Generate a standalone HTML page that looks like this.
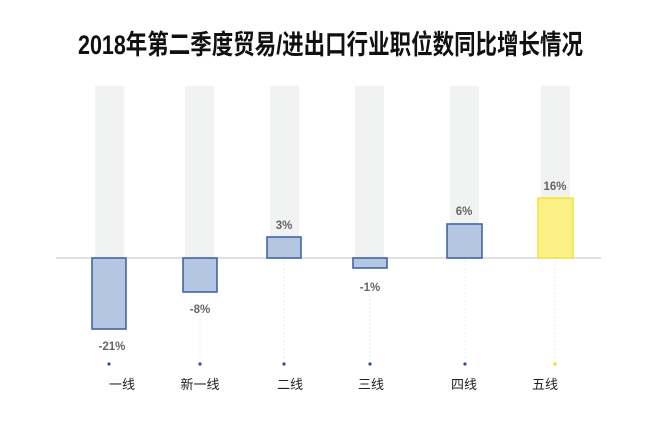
<!DOCTYPE html>
<html><head><meta charset="utf-8"><style>
html,body{margin:0;padding:0;background:#fff;}
svg{display:block;}
</style></head><body>
<svg width="650" height="427" viewBox="0 0 650 427" xmlns="http://www.w3.org/2000/svg">
<text x="78" y="54" textLength="505" lengthAdjust="spacingAndGlyphs" font-family="'Liberation Sans','Noto Sans CJK SC',sans-serif" font-weight="bold" font-size="27" fill="#111">2018年第二季度贸易/进出口行业职位数同比增长情况</text>
<g fill="#f1f2f2">
<rect x="95" y="86" width="29" height="172"/>
<rect x="185" y="86" width="29" height="172"/>
<rect x="270" y="86" width="29" height="172"/>
<rect x="355" y="86" width="29" height="172"/>
<rect x="450" y="86" width="29" height="172"/>
<rect x="541" y="86" width="29" height="172"/>
</g>
<line x1="56" y1="258" x2="601" y2="258" stroke="#cfcfcf" stroke-width="1.2"/>
<g stroke="#eeeef2" stroke-width="1" stroke-dasharray="2,2">
<line x1="200" y1="318" x2="200" y2="360"/>
<line x1="284" y1="260" x2="284" y2="360"/>
<line x1="370" y1="295" x2="370" y2="360"/>
<line x1="465" y1="260" x2="465" y2="360"/>
<line x1="555" y1="260" x2="555" y2="360"/>
</g>
<g fill="#b4c6e2" stroke="#4165a8" stroke-width="1.6">
<rect x="92" y="258" width="34" height="71"/>
<rect x="183" y="258" width="34" height="34"/>
<rect x="267" y="237" width="34" height="21"/>
<rect x="353" y="258" width="34" height="10"/>
<rect x="447" y="224" width="35" height="34"/>
</g>
<rect x="538" y="198" width="35" height="60" fill="#fbf083" stroke="#f2e13a" stroke-width="1.4"/>
<g font-family="'Liberation Sans',sans-serif" font-weight="bold" font-size="11.5" fill="#666" text-anchor="middle">
<text x="112" y="350">-21%</text>
<text x="200" y="313">-8%</text>
<text x="284" y="229">3%</text>
<text x="370" y="291">-1%</text>
<text x="464" y="215">6%</text>
<text x="555" y="190">16%</text>
</g>
<g fill="#2d4f8c">
<circle cx="109" cy="364" r="1.6"/>
<circle cx="200" cy="364" r="1.6"/>
<circle cx="284" cy="364" r="1.6"/>
<circle cx="370" cy="364" r="1.6"/>
<circle cx="465" cy="364" r="1.6"/>
</g>
<circle cx="555" cy="364" r="1.8" fill="#f2e13a"/>
<g font-family="'Liberation Sans','Noto Sans CJK SC',sans-serif" font-size="13" fill="#222" text-anchor="middle">
<text x="122" y="389">一线</text>
<text x="200" y="389">新一线</text>
<text x="290" y="389">二线</text>
<text x="371" y="389">三线</text>
<text x="464" y="389">四线</text>
<text x="545" y="389">五线</text>
</g>
</svg>
</body></html>
